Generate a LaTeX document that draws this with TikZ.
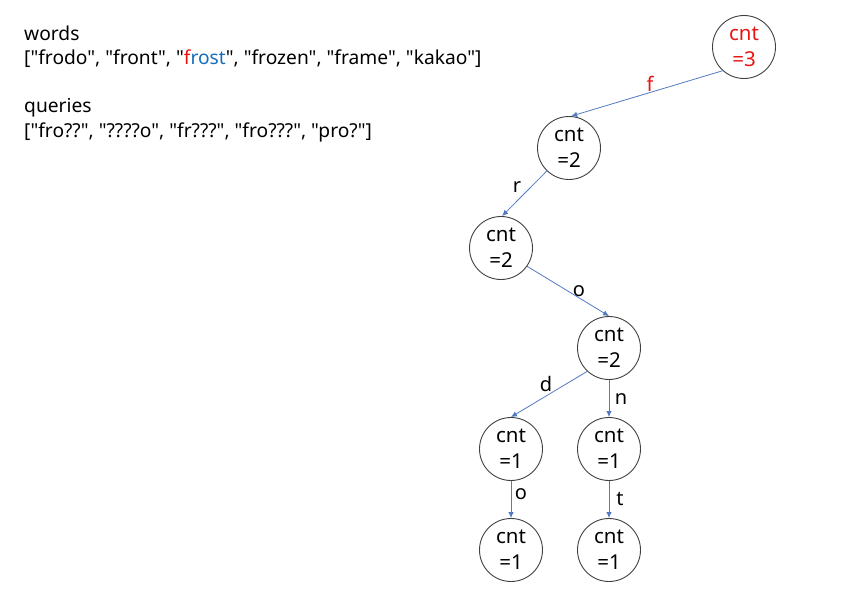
\documentclass[tikz,border=0pt]{standalone}
\usepackage{fontspec}
\setmainfont{Noto Sans}[Ligatures=TeXOff]
\usetikzlibrary{arrows.meta}
\definecolor{edgeblue}{RGB}{82,122,196}
\definecolor{hlred}{RGB}{232,20,20}
\definecolor{hlblue}{RGB}{20,110,190}
\tikzset{
  trie/.style={circle, draw=black!75, line width=0.9pt, minimum size=63pt, inner sep=0pt,
    align=center, font=\fontsize{20.5}{26}\selectfont},
  edge/.style={draw=edgeblue, line width=0.8pt, -{Latex[length=6pt,width=5.5pt]}},
  lbl/.style={font=\fontsize{20}{22}\selectfont, inner sep=0pt},
  txt/.style={anchor=base west, inner sep=0pt, font=\fontsize{19.2}{22}\selectfont}
}
\begin{document}
\begin{tikzpicture}[x=1pt,y=-1pt]
\useasboundingbox (0,0) rectangle (865,591);

% input lists
\node[txt] (wtitle) at (24,41) {words};
\node[txt] (wlist) at (24,65) {["frodo", "front", "{\color{hlred}f}{\color{hlblue}rost}", "frozen", "frame", "kakao"]};
\node[txt] (qtitle) at (24,113) {queries};
\node[txt] (qlist) at (24,138) {["fro??", "????o", "fr???", "fro???", "pro?"]};

% trie nodes
\node[trie, text=hlred] (root) at (744,47) {cnt\\=3};
\node[trie] (f) at (569,148) {cnt\\=2};
\node[trie] (fr) at (501,248) {cnt\\=2};
\node[trie] (fro) at (609,348) {cnt\\=2};
\node[trie] (frod) at (511,449) {cnt\\=1};
\node[trie] (fron) at (609,449) {cnt\\=1};
\node[trie] (frodo) at (511,550) {cnt\\=1};
\node[trie] (front) at (609,550) {cnt\\=1};

% edges
\draw[edge] (root.228) -- (f.86);
\draw[edge] (f.226) -- (fr.88);
\draw[edge] (fr.325) -- (fro.90);
\draw[edge] (fro.227) -- (frod.90);
\draw[edge] (fro.270) -- (fron.90);
\draw[edge] (frod.270) -- (frodo.90);
\draw[edge] (fron.270) -- (front.90);

% edge letters
\node[lbl, text=hlred] (lf) at (650,84) {f};
\node[lbl] (lr) at (517,187) {r};
\node[lbl] (lo1) at (579,291) {o};
\node[lbl] (ld) at (546,384) {d};
\node[lbl] (ln) at (621,399) {n};
\node[lbl] (lo2) at (521,494) {o};
\node[lbl] (lt) at (620,499) {t};
\end{tikzpicture}
\end{document}
